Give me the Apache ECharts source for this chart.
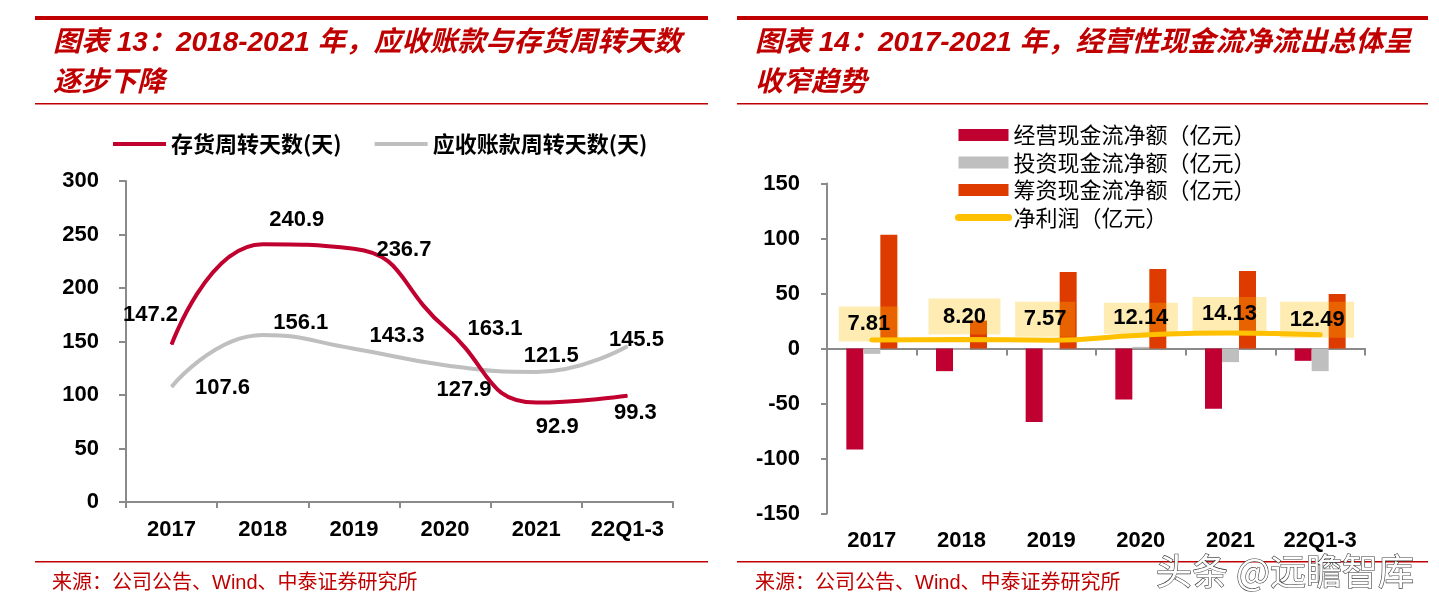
<!DOCTYPE html>
<html>
<head>
<meta charset="utf-8">
<script src="https://cdn.jsdelivr.net/npm/echarts@6/dist/echarts.min.js"></script>
<style>
html,body{margin:0;padding:0;background:#fff;}
#c{width:1439px;height:605px;}
</style>
</head>
<body>
<div id="c"></div>
<script>
// ---- data ----
const categories = ['2017', '2018', '2019', '2020', '2021', '22Q1-3'];
const inventoryDays = [147.2, 240.9, 236.7, 163.1, 92.9, 99.3];
const receivableDays = [107.6, 156.1, 143.3, 127.9, 121.5, 145.5];
const operatingCF = [-91.9, -20.6, -66.9, -46.3, -54.8, -11.2];
const investingCF = [-4.9, -1.0, -1.0, 1.5, -12.4, -20.6];
const financingCF = [103.4, 25.4, 69.6, 72.3, 70.5, 49.6];
const netProfit = [7.81, 8.20, 7.57, 12.14, 14.13, 12.49];
const leftTicks = { min: 0, max: 300, interval: 50 };
const rightTicks = { min: -150, max: 150, interval: 50 };

// ---- label placement (style only) ----
const redLabelOffsets = [[-21, -30], [34, -24], [50, 1], [50, 1], [21, 24], [8, 17]];
const grayLabelOffsets = [[51, 1], [38, -12], [43, -13], [19, 25], [15, -16], [9, -6]];
const profitLabelOffsets = [[-3, -16], [3, -23], [-6, -21], [0, -17], [-1, -19], [-3, -15]];
const profitLabelBoxes = [[60, 35], [72, 36], [60, 35], [74, 31], [74, 34], [74, 36]];

const NUM = "'Liberation Sans', Arial, sans-serif";
const CJK = "'Noto Sans CJK SC', sans-serif";
const MIX = "'Liberation Sans', 'Noto Sans CJK SC', sans-serif";
const RED = '#C00000';
const AXIS = '#8A8A8A';

function labeled(values, offsets, extra) {
  return values.map((v, i) => ({
    value: v,
    label: Object.assign({ offset: offsets[i] }, extra ? extra(i) : {})
  }));
}

const chart = echarts.init(document.getElementById('c'), null, { renderer: 'canvas' });

const numLabel = { show: true, position: 'inside', color: '#000', fontFamily: NUM, fontWeight: 'bold', fontSize: 22 };
const hiddenSymbol = { opacity: 0 };

const option = {
  animation: false,
  backgroundColor: '#fff',
  legend: [
    {
      left: 106, top: 128, orient: 'horizontal',
      itemWidth: 53, itemHeight: 14, itemGap: 31,
      textStyle: { fontFamily: CJK, fontWeight: 'bold', fontSize: 22, color: '#000' },
      data: [
        { name: '存货周转天数(天)', itemStyle: hiddenSymbol, lineStyle: { width: 4 } },
        { name: '应收账款周转天数(天)', itemStyle: hiddenSymbol, lineStyle: { width: 4 } }
      ]
    },
    {
      left: 950, top: 119, orient: 'vertical',
      itemWidth: 50, itemHeight: 12, itemGap: 5.5,
      textStyle: { fontFamily: CJK, fontSize: 22, lineHeight: 22, color: '#000' },
      data: [
        { name: '经营现金流净额（亿元）', icon: 'rect' },
        { name: '投资现金流净额（亿元）', icon: 'rect' },
        { name: '筹资现金流净额（亿元）', icon: 'rect' },
        { name: '净利润（亿元）', itemStyle: hiddenSymbol, lineStyle: { width: 7, cap: 'round' } }
      ]
    }
  ],
  grid: [
    { left: 126, top: 181, width: 547, height: 321 },
    { left: 827, top: 183.5, width: 538, height: 330 }
  ],
  xAxis: [
    {
      type: 'category', gridIndex: 0, data: categories, boundaryGap: true,
      axisLine: { lineStyle: { color: AXIS, width: 2 } },
      axisTick: { show: true, length: 6, lineStyle: { color: AXIS, width: 2 } },
      axisLabel: { interval: 0, margin: 17, color: '#000', fontFamily: NUM, fontWeight: 'bold', fontSize: 22 }
    },
    {
      type: 'category', gridIndex: 1, data: categories, position: 'bottom', boundaryGap: true,
      axisLine: { show: false, onZero: false },
      axisTick: { show: false },
      axisLabel: { interval: 0, margin: 16, color: '#000', fontFamily: NUM, fontWeight: 'bold', fontSize: 22 }
    },
    {
      type: 'category', gridIndex: 1, data: categories, position: 'top', boundaryGap: true,
      axisLine: { show: true, onZero: true, lineStyle: { color: AXIS, width: 2 } },
      axisTick: { show: true, inside: true, length: 7, interval: 0, lineStyle: { color: AXIS, width: 2 } },
      axisLabel: { show: false }
    }
  ],
  yAxis: [
    {
      type: 'value', gridIndex: 0, min: leftTicks.min, max: leftTicks.max, interval: leftTicks.interval,
      splitLine: { show: false },
      axisLine: { show: true, lineStyle: { color: AXIS, width: 2 } },
      axisTick: { show: true, length: 7, lineStyle: { color: AXIS, width: 2 } },
      axisLabel: { margin: 27, color: '#000', fontFamily: NUM, fontWeight: 'bold', fontSize: 22 }
    },
    {
      type: 'value', gridIndex: 1, min: rightTicks.min, max: rightTicks.max, interval: rightTicks.interval,
      splitLine: { show: false },
      axisLine: { show: true, onZero: false, lineStyle: { color: AXIS, width: 2 } },
      axisTick: { show: true, length: 6, lineStyle: { color: AXIS, width: 2 } },
      axisLabel: { margin: 27, color: '#000', fontFamily: NUM, fontWeight: 'bold', fontSize: 22 }
    }
  ],
  series: [
    {
      name: '存货周转天数(天)', type: 'line', xAxisIndex: 0, yAxisIndex: 0, smooth: 0.5,
      symbol: 'circle', symbolSize: 1, showSymbol: true,
      itemStyle: { color: '#C0002F' },
      lineStyle: { color: '#C0002F', width: 4 },
      label: numLabel,
      data: labeled(inventoryDays, redLabelOffsets),
      z: 3
    },
    {
      name: '应收账款周转天数(天)', type: 'line', xAxisIndex: 0, yAxisIndex: 0, smooth: 0.5,
      symbol: 'circle', symbolSize: 1, showSymbol: true,
      itemStyle: { color: '#BFBFBF' },
      lineStyle: { color: '#BFBFBF', width: 4 },
      label: numLabel,
      data: labeled(receivableDays, grayLabelOffsets),
      z: 2
    },
    {
      name: '经营现金流净额（亿元）', type: 'bar', xAxisIndex: 1, yAxisIndex: 1,
      barWidth: 17, barGap: '0%',
      itemStyle: { color: '#C00030' },
      data: operatingCF
    },
    {
      name: '投资现金流净额（亿元）', type: 'bar', xAxisIndex: 1, yAxisIndex: 1,
      barWidth: 17, barGap: '0%',
      itemStyle: { color: '#BFBFBF' },
      data: investingCF
    },
    {
      name: '筹资现金流净额（亿元）', type: 'bar', xAxisIndex: 1, yAxisIndex: 1,
      barWidth: 17, barGap: '0%',
      itemStyle: { color: '#DE3B00' },
      data: financingCF
    },
    {
      name: '净利润（亿元）', type: 'line', xAxisIndex: 1, yAxisIndex: 1, smooth: 0.5,
      symbol: 'circle', symbolSize: 1, showSymbol: true,
      itemStyle: { color: '#FFC000' },
      lineStyle: { color: '#FFC000', width: 5, cap: 'round' },
      label: Object.assign({}, numLabel, {
        backgroundColor: 'rgba(255,192,0,0.3)', align: 'center', verticalAlign: 'middle', padding: 0,
        formatter: (p) => p.value.toFixed(2)
      }),
      data: labeled(netProfit, profitLabelOffsets, (i) => ({
        width: profitLabelBoxes[i][0], height: profitLabelBoxes[i][1], lineHeight: profitLabelBoxes[i][1]
      })),
      z: 5
    }
  ],
  graphic: [
    // left panel rules
    { type: 'rect', shape: { x: 35, y: 16, width: 673, height: 4 }, style: { fill: RED }, silent: true },
    { type: 'rect', shape: { x: 35, y: 103, width: 673, height: 1.5 }, style: { fill: RED }, silent: true },
    { type: 'rect', shape: { x: 35, y: 561, width: 673, height: 1.5 }, style: { fill: RED }, silent: true },
    // right panel rules
    { type: 'rect', shape: { x: 737, y: 16, width: 691, height: 4 }, style: { fill: RED }, silent: true },
    { type: 'rect', shape: { x: 737, y: 103, width: 691, height: 1.5 }, style: { fill: RED }, silent: true },
    { type: 'rect', shape: { x: 737, y: 561, width: 691, height: 1.5 }, style: { fill: RED }, silent: true },
    // titles
    { type: 'text', x: 53, y: 43, style: { text: '图表 13：2018-2021 年，应收账款与存货周转天数', fill: RED, font: "italic bold 28px " + MIX, verticalAlign: 'middle' } },
    { type: 'text', x: 53, y: 83, style: { text: '逐步下降', fill: RED, font: "italic bold 28px " + MIX, verticalAlign: 'middle' } },
    { type: 'text', x: 755, y: 43, style: { text: '图表 14：2017-2021 年，经营性现金流净流出总体呈', fill: RED, font: "italic bold 28px " + MIX, verticalAlign: 'middle' } },
    { type: 'text', x: 755, y: 83, style: { text: '收窄趋势', fill: RED, font: "italic bold 28px " + MIX, verticalAlign: 'middle' } },
    // sources
    { type: 'text', x: 52, y: 583, style: { text: '来源：公司公告、Wind、中泰证券研究所', fill: RED, font: "20px " + MIX, verticalAlign: 'middle' } },
    { type: 'text', x: 755, y: 583, style: { text: '来源：公司公告、Wind、中泰证券研究所', fill: RED, font: "20px " + MIX, verticalAlign: 'middle' } },
    // watermark
    { type: 'text', x: 1156, y: 571, z: 100, style: { text: '头条 @远瞻智库', fill: '#ffffff', stroke: '#3a3a3a', lineWidth: 1.2, font: "36px " + CJK, verticalAlign: 'middle', shadowColor: 'rgba(0,0,0,0.55)', shadowOffsetX: 2, shadowOffsetY: 2, shadowBlur: 1 } }
  ]
};

chart.setOption(option);
</script>
</body>
</html>
